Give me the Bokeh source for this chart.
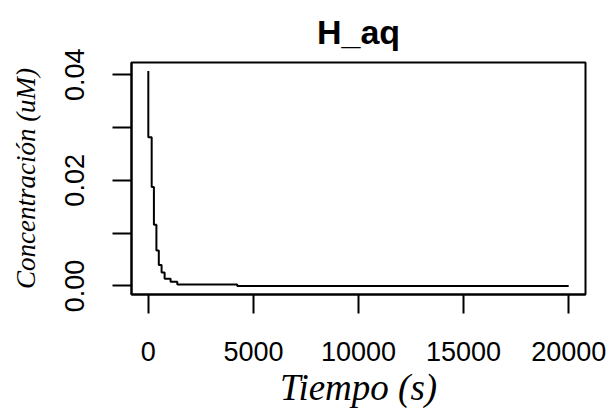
from bokeh.plotting import figure
from bokeh.models import Range1d, FixedTicker
from bokeh.embed import file_html
from bokeh.resources import INLINE

# Data (step curve)
tiempo = [0, 160, 266, 385, 499, 632, 775, 1060, 1378, 4230, 20000]
concentracion = [0.0407, 0.02815, 0.01872, 0.0116, 0.0067, 0.00396,
                 0.00255, 0.00136, 0.00079, 0.00028, 0.0]

x_ticks = [0, 5000, 10000, 15000, 20000]
x_tick_labels = ["0", "5000", "10000", "15000", "20000"]
y_ticks = [0.0, 0.01, 0.02, 0.03, 0.04]
y_tick_labels = ["0.00", "", "0.02", "", "0.04"]

p = figure(width=609, height=410, output_backend="svg", toolbar_location=None,
           x_range=Range1d(-800, 20800), y_range=Range1d(-0.00163, 0.04233),
           min_border_left=131, min_border_right=24, min_border_top=62,
           min_border_bottom=115, title="H_aq")

p.step(tiempo, concentracion, mode="before", line_color="black", line_width=2)

p.background_fill_color = "white"
p.border_fill_color = "white"
p.outline_line_color = "black"
p.outline_line_width = 2
p.xgrid.visible = False
p.ygrid.visible = False

p.title.align = "center"
p.title.vertical_align = "top"
p.title.text_font = "Liberation Sans"
p.title.text_font_size = "34px"
p.title.text_font_style = "bold"
p.title.text_color = "black"
p.title.standoff = 20

for ax in (p.xaxis[0], p.yaxis[0]):
    ax.axis_line_color = "black"
    ax.axis_line_width = 2
    ax.major_tick_line_color = "black"
    ax.major_tick_line_width = 2
    ax.major_tick_out = 19
    ax.major_tick_in = 0
    ax.minor_tick_line_color = None
    ax.major_label_text_font = "Liberation Sans"
    ax.major_label_text_font_size = "27px"
    ax.major_label_text_color = "black"
    ax.axis_label_text_font = "Liberation Serif"
    ax.axis_label_text_font_style = "italic"
    ax.axis_label_text_color = "black"

p.xaxis.ticker = FixedTicker(ticks=x_ticks)
p.xaxis.major_label_overrides = {t: l for t, l in zip(x_ticks, x_tick_labels)}
p.xaxis.major_label_standoff = 28
p.xaxis.axis_label = "Tiempo (s)"
p.xaxis.axis_label_text_font_size = "37px"
p.xaxis.axis_label_standoff = 3

p.yaxis.ticker = FixedTicker(ticks=y_ticks)
p.yaxis.major_label_overrides = {t: l for t, l in zip(y_ticks, y_tick_labels)}
p.yaxis.major_label_orientation = "vertical"
p.yaxis.major_label_standoff = 28
p.yaxis.axis_label = "Concentración (uM)"
p.yaxis.axis_label_text_font_size = "27px"
p.yaxis.axis_label_standoff = 22

open("out.html", "w").write(file_html(p, INLINE))
